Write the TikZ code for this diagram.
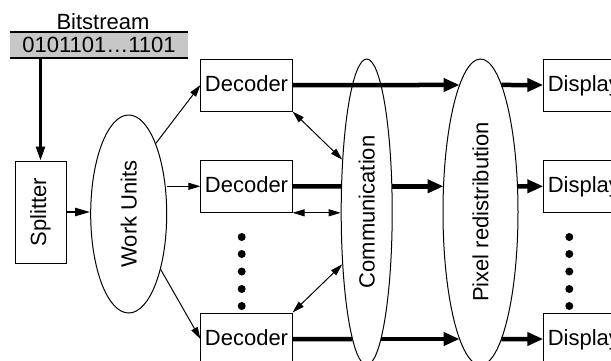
\documentclass[tikz,border=0pt]{standalone}
\usepackage{fontspec}
\setmainfont{Liberation Sans}
\usepackage{tikz}
\usetikzlibrary{arrows.meta,shapes.geometric,intersections}

\begin{document}
\begin{tikzpicture}[x=1pt,y=-1pt,
  font=\fontsize{22}{26}\selectfont,
  box/.style={draw,line width=1pt,inner sep=4pt},
  unit/.style={box,minimum height=52pt,text height=16pt,text depth=4pt},
  blob/.style={draw,ellipse,line width=1pt,inner sep=0pt},
  thin arrow/.style={line width=1pt,-{Triangle[length=12pt,width=7pt]}},
  both arrow/.style={line width=1pt,{Triangle[length=12pt,width=7pt]}-{Triangle[length=12pt,width=7pt]}},
  fat line/.style={line width=4.5pt},
  fat arrow/.style={fat line,-{Triangle[length=16pt,width=13pt]}}]
  \useasboundingbox (0,0) rectangle (611,360);
  \clip (0,0) rectangle (611,360);

  % Bitstream bar
  \node (bits) at (99,45) [fill=black!22,minimum width=178pt,minimum height=26pt,inner sep=0pt] {0101101…1101};
  \draw[line width=2pt] (bits.north west) -- (bits.north east);
  \draw[line width=2pt] (bits.south west) -- (bits.south east);
  \node (bitlabel) at (103,22) {Bitstream};

  % Splitter and work units
  \node[box,minimum width=51pt,minimum height=102pt] (split) at (40.5,212) {\rotatebox{90}{Splitter}};
  \node[blob,minimum width=76pt,minimum height=198pt] (work) at (128.7,214) {\rotatebox{90}{Work Units}};

  % Decoders
  \node[unit] (dec1) at (246.5,85) {Decoder};
  \node[unit] (dec2) at (246.5,186.3) {Decoder};
  \node[unit] (dec3) at (246.5,339) {Decoder};

  % Communication / redistribution stages
  \node[blob,name path=commb,minimum width=51pt,minimum height=306pt] (comm) at (366.7,212) {\rotatebox{90}{Communication}};
  \node[blob,name path=pixb,minimum width=75pt,minimum height=306pt] (pix) at (480.5,212) {\rotatebox{90}{Pixel redistribution}};

  % Displays
  \node[unit,anchor=west] (disp1) at (543.3,85) {Display};
  \node[unit,anchor=west] (disp2) at (543.3,186.3) {Display};
  \node[unit,anchor=west] (disp3) at (543.3,339) {Display};

  % Dots
  \foreach \y in {237,254,271.5,289,306} {
    \fill (241.7,\y) circle (4pt);
    \fill (569.3,\y) circle (4pt);
  }

  % Input side
  \draw[line width=2.5pt,-{Triangle[length=14pt,width=9pt]}] (bits.south -| split) -- (split.north);
  \draw[line width=2pt,-{Triangle[length=15pt,width=8pt]}] (split.east) -- (split.east -| work.west);
  \draw[thin arrow] (work.69) -- (dec1.west);
  \draw[thin arrow] (work.east |- dec2) -- (dec2.west);
  \draw[thin arrow] (work.-60) -- (dec3.west);

  % Decoder exchange
  \draw[both arrow] (dec1.south east) -- (comm.115);
  \draw[both arrow] (dec2.south east) -- (dec2.south east -| comm.west);
  \draw[both arrow] (dec3.north east) -- (comm.-115);

  % Pixel paths
  \path[name path=row1] (dec1.east) -- (disp1.west);
  \path[name path=row2] (dec2.east) -- (disp2.west);
  \path[name path=row3] (dec3.east) -- (disp3.west);
  \path[name intersections={of=row1 and pixb,sort by=row1,name=p1}];
  \path[name intersections={of=row2 and commb,sort by=row2,name=c2}];
  \path[name intersections={of=row2 and pixb,sort by=row2,name=p2}];
  \path[name intersections={of=row3 and commb,sort by=row3,name=c3}];
  \path[name intersections={of=row3 and pixb,sort by=row3,name=p3}];

  \draw[fat arrow] (dec1.east) -- (p1-1);
  \draw[fat arrow] (p1-2) -- (disp1.west);
  \draw[fat line] (dec2.east) -- (c2-1);
  \draw[fat arrow] (c2-2) -- (p2-1);
  \draw[fat arrow] (p2-2) -- (disp2.west);
  \draw[fat line] (dec3.east) -- (c3-1);
  \draw[fat arrow] (c3-2) -- (p3-1);
  \draw[fat arrow] (p3-2) -- (disp3.west);
\end{tikzpicture}
\end{document}
